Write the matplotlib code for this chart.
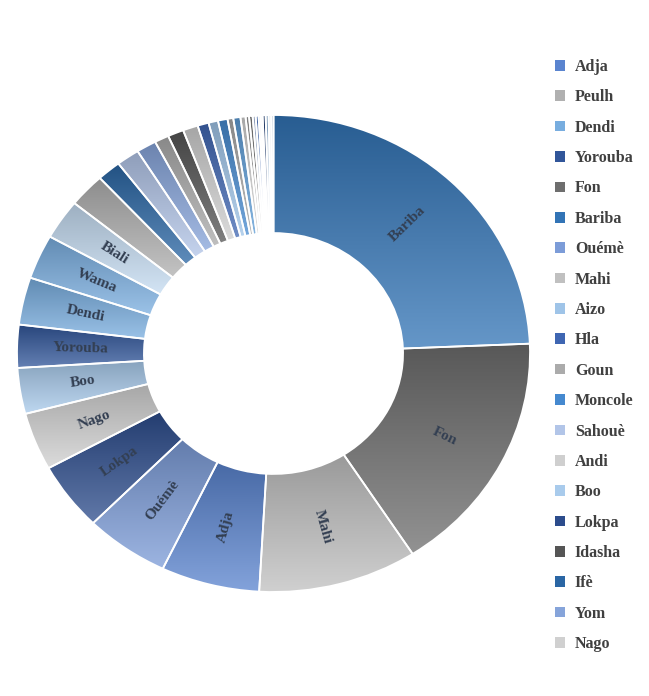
import numpy as np
import matplotlib
matplotlib.use("Agg")
import matplotlib.pyplot as plt
from matplotlib.colors import to_rgb
from matplotlib.patches import Patch

plt.rcParams['font.family'] = ['Liberation Serif', 'DejaVu Serif']

# ethnic groups, in clockwise order from 12 o'clock (share in %)
groupes = ['Bariba', 'Fon', 'Mahi', 'Adja', 'Ouémè', 'Lokpa', 'Nago', 'Boo',
           'Yorouba', 'Dendi', 'Wama', 'Biali', 'Peulh', 'Ifè', 'Sahouè', 'Yom',
           'Goun', 'Idasha', 'Andi', 'Hla', 'Aizo', 'Moncole', 'Tchabè', 'Mina',
           'Xwla', 'Kotafon', 'Tori', 'Gourmantché', 'Ditamari', 'Tanéka',
           'Anii', 'Foodo', 'Kabyè', 'Waaba', 'Yoa']
parts = [24.3, 16.5, 10.0, 6.2, 5.3, 4.6, 3.9, 3.1,
         2.9, 3.2, 3.0, 2.7, 2.3, 1.5, 1.45, 1.25,
         0.9, 1.0, 0.95, 0.7, 0.6, 0.6, 0.36, 0.45,
         0.32, 0.22, 0.22, 0.19, 0.18, 0.13,
         0.12, 0.19, 0.19, 0.15, 0.15]
couleurs = ['#3274b6', '#6e6e6e', '#c0c0c0', '#5a84cf', '#7c9cd8', '#2c4c8c',
            '#d0d0d0', '#a9cbec', '#31569a', '#78addf', '#7aaee0', '#c4dbf1',
            '#b0b0b0', '#2a66a4', '#b2c5e8', '#86a4da', '#ababab', '#555555',
            '#cfcfcf', '#3f66b2', '#9fc4e8', '#4589cf', '#a8a8a8', '#5d9cd6',
            '#d2d2d2', '#9c9c9c', '#7c7c7c', '#b6c8e8', '#4a76c6', '#c8dbf2',
            '#dedede', '#2c4a80', '#a2c6e8', '#dfeaf6', '#c2d9f0']
etiquettes = ['Bariba', 'Fon', 'Mahi', 'Adja', 'Ouémè', 'Lokpa', 'Nago', 'Boo',
              'Yorouba', 'Dendi', 'Wama', 'Biali']

# legend entries (only the first twenty fit)
legende = ['Adja', 'Peulh', 'Dendi', 'Yorouba', 'Fon', 'Bariba', 'Ouémè',
           'Mahi', 'Aizo', 'Hla', 'Goun', 'Moncole', 'Sahouè', 'Andi', 'Boo',
           'Lokpa', 'Idasha', 'Ifè', 'Yom', 'Nago']


def nuance(c, f):
    r = np.array(to_rgb(c))
    if f < 0:
        return r * (1 + f)
    return r + (1 - r) * f


W, H = 649, 696
fig = plt.figure(figsize=(W / 100, H / 100), dpi=100)
# slightly wider than tall, like the original chart
cx, cy, rx, ry = 273.5, 353.5, 256.5, 238.5
ax = fig.add_axes([(cx - rx) / W, 1 - (cy + ry) / H, 2 * rx / W, 2 * ry / H])

wedges, _ = ax.pie(parts, startangle=90, counterclock=False, normalize=True,
                   wedgeprops=dict(width=0.495, edgecolor='white', linewidth=1.3))

for w, col in zip(wedges, couleurs):
    # vertical gradient, dark at top -> light at bottom
    haut = nuance(col, -0.2)
    bas = nuance(col, 0.25)
    t = np.linspace(0, 1, 256)[:, None, None]
    grad = haut[None, None, :] * (1 - t) + bas[None, None, :] * t
    ext = w.get_path().get_extents()
    im = ax.imshow(grad, extent=[ext.x0, ext.x1, ext.y0, ext.y1],
                   aspect='auto', interpolation='bilinear', zorder=1)
    im.set_clip_path(w)
    w.set_facecolor('none')
    w.set_zorder(2)

ax.set_xlim(-1, 1)
ax.set_ylim(-1, 1)
ax.set_aspect('auto')
ax.axis('off')

fig.canvas.draw()
for w, nom in zip(wedges, groupes):
    if nom not in etiquettes:
        continue
    a = np.deg2rad((w.theta1 + w.theta2) / 2)
    x, y = 0.752 * np.cos(a), 0.752 * np.sin(a)
    p0 = ax.transData.transform((0, 0))
    p1 = ax.transData.transform((x, y))
    rot = np.degrees(np.arctan2(p1[1] - p0[1], p1[0] - p0[0]))
    if rot > 90:
        rot -= 180
    elif rot < -90:
        rot += 180
    ax.text(x, y, nom, rotation=rot, rotation_mode='anchor', ha='center',
            va='center', fontsize=11, fontweight='bold', color='#333f52',
            zorder=3)

coul = dict(zip(groupes, couleurs))
poignees = [Patch(facecolor=coul[n], edgecolor='none') for n in legende]
fig.legend(poignees, legende, loc='upper left',
           bbox_to_anchor=(555 / W, 1 - 59 / H), frameon=False,
           borderpad=0, borderaxespad=0, handlelength=0.65, handleheight=0.65,
           handletextpad=0.6, labelspacing=0.9,
           prop=dict(family='Liberation Serif', weight='bold', size=11.5),
           labelcolor='#404040')

fig.savefig('out.png', dpi=100, facecolor='white')
